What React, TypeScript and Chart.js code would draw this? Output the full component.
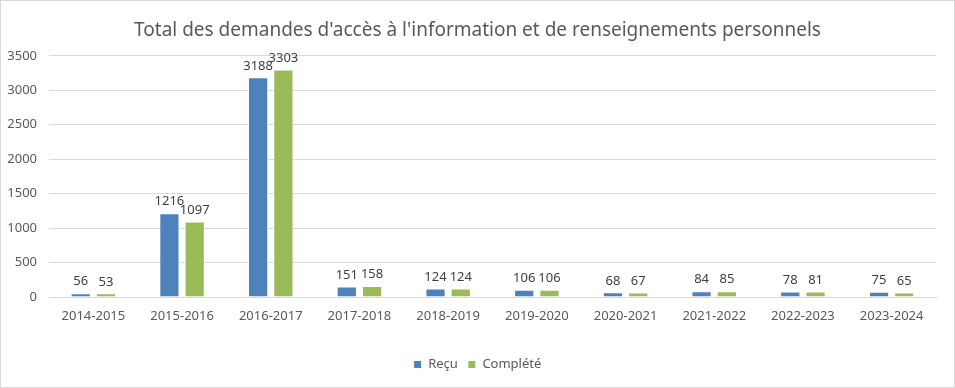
import React, { useEffect, useRef } from "react";
import { Chart, registerables } from "chart.js";

Chart.register(...registerables);

const titleText = "Total des demandes d'accès à l'information et de renseignements personnels";
const categories = ["2014-2015", "2015-2016", "2016-2017", "2017-2018", "2018-2019", "2019-2020", "2020-2021", "2021-2022", "2022-2023", "2023-2024"];
const recu = [56, 1216, 3188, 151, 124, 106, 68, 84, 78, 75];
const complete = [53, 1097, 3303, 158, 124, 106, 67, 85, 81, 65];
const seriesNames = ["Reçu", "Complété"];

const FONT = "'Noto Sans', 'Liberation Sans', sans-serif";

const labelPlugin = {
  id: "barLabels",
  afterDatasetsDraw(chart: any) {
    const ctx = chart.ctx;
    ctx.save();
    ctx.font = `13px ${FONT}`;
    ctx.fillStyle = "#404040";
    ctx.textAlign = "center";
    ctx.textBaseline = "bottom";
    chart.data.datasets.forEach((ds: any, i: number) => {
      const meta = chart.getDatasetMeta(i);
      meta.data.forEach((bar: any, j: number) => {
        ctx.fillText(String(ds.data[j]), bar.x, bar.y - 5);
      });
    });
    ctx.restore();
  },
};

export default function App() {
  const ref = useRef<HTMLCanvasElement>(null);
  useEffect(() => {
    if (!ref.current) return;
    const chart = new Chart(ref.current, {
      type: "bar",
      data: {
        labels: categories,
        datasets: [
          { label: seriesNames[0], data: recu, backgroundColor: "#4F81BD", borderColor: "#ffffff", borderWidth: 1, categoryPercentage: 0.57, barPercentage: 0.8 },
          { label: seriesNames[1], data: complete, backgroundColor: "#9BBB59", borderColor: "#ffffff", borderWidth: 1, categoryPercentage: 0.57, barPercentage: 0.8 },
        ],
      },
      options: {
        animation: false,
        responsive: false,
        maintainAspectRatio: false,
        layout: { padding: { left: 0, right: 0, top: 14, bottom: 6 } },
        plugins: {
          title: {
            display: true,
            text: titleText,
            color: "#595959",
            font: { family: FONT, size: 19, weight: "normal" },
            padding: { top: 4, bottom: 14 },
          },
          legend: {
            position: "bottom",
            labels: {
              color: "#595959",
              font: { family: FONT, size: 13 },
              boxWidth: 8,
              boxHeight: 8,
              padding: 10,
            },
          },
          tooltip: { enabled: false },
        },
        scales: {
          x: {
            grid: { display: false },
            border: { color: "#d9d9d9" },
            ticks: { color: "#595959", font: { family: FONT, size: 13 }, padding: 3 },
            afterFit(scale: any) {
              scale.height = 51;
            },
          },
          y: {
            min: 0,
            max: 3500,
            ticks: {
              stepSize: 500,
              color: "#595959",
              font: { family: FONT, size: 13 },
              padding: 12,
              callback: (v: any) => String(v),
            },
            grid: { color: "#d9d9d9", drawTicks: false },
            border: { display: false },
            afterFit(scale: any) {
              scale.width = 48;
            },
          },
          yRight: {
            position: "right",
            display: true,
            min: 0,
            max: 3500,
            grid: { display: false, drawTicks: false },
            ticks: { display: false },
            border: { display: false },
            afterFit(scale: any) {
              scale.width = 18;
            },
          },
        },
      },
      plugins: [labelPlugin],
    });
    return () => chart.destroy();
  }, []);
  return (
    <div style={{ position: "fixed", left: 0, top: 0, width: 955, height: 388, boxSizing: "border-box", border: "1px solid #d9d9d9", background: "#fff" }}>
      <canvas ref={ref} width={953} height={386} style={{ display: "block" }} />
    </div>
  );
}
